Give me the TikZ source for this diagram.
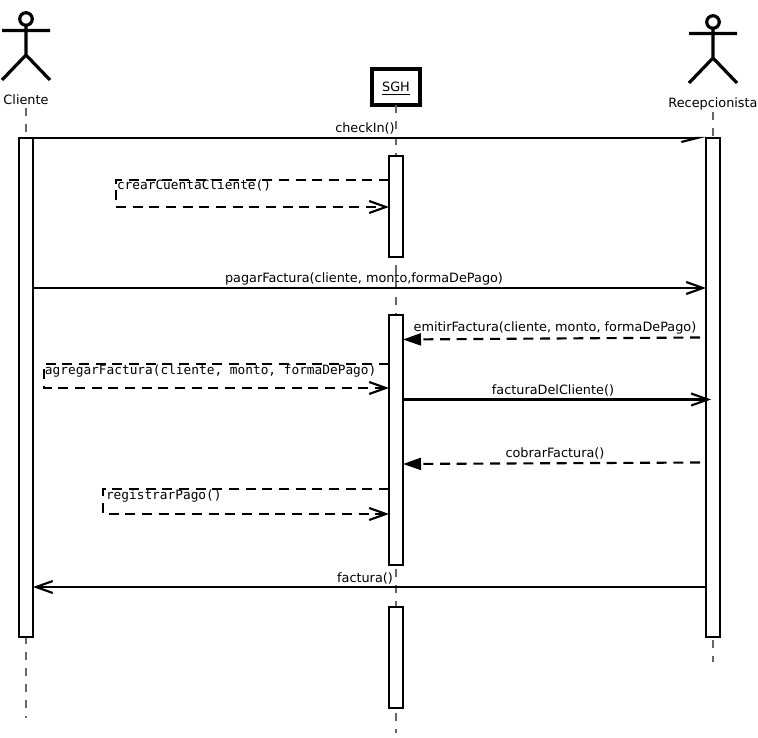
\documentclass[tikz,border=0pt]{standalone}
\usepackage{fontspec}
\setmainfont{DejaVu Sans}
\setmonofont{DejaVu Sans Mono}
\usetikzlibrary{arrows.meta,calc}
\tikzset{
  x=0.75pt,y=-0.75pt,
  every node/.style={inner sep=0pt,outer sep=0pt},
  lbl/.style={font=\fontsize{9.62}{11}\selectfont,anchor=base},
  noteL/.style={font=\ttfamily\fontsize{9.6}{11}\selectfont,anchor=base west},
  bar/.style={draw,fill=white,line width=1.6pt,minimum width=10.5pt},
  sysbox/.style={draw,fill=white,line width=2.4pt,minimum width=36pt,minimum height=27pt},
  life/.style={draw=black!60,line width=1.2pt,dash pattern=on 6pt off 6pt},
  stick/.style={line width=2.4pt},
  msg/.style={line width=1.6pt,-{Straight Barb[length=12.5pt,width=9pt]}},
  half/.style={line width=1.6pt,-{Straight Barb[length=12pt,width=6pt,right]}},
  ret/.style={line width=1.6pt,dash pattern=on 7.5pt off 5pt,-{Straight Barb[length=12.5pt,width=9pt]}},
  fmsg/.style={line width=1.6pt,dash pattern=on 7.5pt off 5pt,-{Triangle[length=13.5pt,width=9pt]}},
}
\begin{document}
\begin{tikzpicture}
\useasboundingbox (0,0) rectangle (758,738);
% lifelines
\node[sysbox] (sgh) at (396,87) {};
\node[lbl] (sghT) at (396,92) {\underline{SGH}};
\coordinate (cTop) at (26,108);
\coordinate (cEnd) at (26,718);
\coordinate (rTop) at (713,112);
\coordinate (rEnd) at (713,662);
\coordinate (sEnd) at (396,733);
\draw[life] (cTop) -- (cEnd);
\draw[life] (rTop) -- (rEnd);
\draw[life] (sgh.south) -- (sEnd);
% activation bars
\node[bar,minimum height=374.25pt] (barC) at (26,387.5) {};
\node[bar,minimum height=374.25pt] (barR) at (713,387.5) {};
\node[bar,minimum height=75.75pt] (barS1) at (396,206.5) {};
\node[bar,minimum height=187.5pt] (barS2) at (396,440) {};
\node[bar,minimum height=75.75pt] (barS3) at (396,657.5) {};
% actors
\coordinate (aHead) at (26,19);
\coordinate (aNeck) at (26,25.5);
\coordinate (aHip) at (26,55);
\coordinate (aArmL) at (2,30.5);
\coordinate (aArmR) at (50,30.5);
\coordinate (aLegL) at (2,80);
\coordinate (aLegR) at (50,80);
\draw[stick] (aHead) circle[radius=4.7pt];
\draw[stick] (aNeck) -- (aHip) (aArmL) -- (aArmR) (aLegL) -- (aHip) -- (aLegR);
\node[lbl] (cliente) at (26,105) {Cliente};
\coordinate (bHead) at (713,22);
\coordinate (bNeck) at (713,28.5);
\coordinate (bHip) at (713,58);
\coordinate (bArmL) at (689,33.5);
\coordinate (bArmR) at (737,33.5);
\coordinate (bLegL) at (689,83);
\coordinate (bLegR) at (737,83);
\draw[stick] (bHead) circle[radius=4.7pt];
\draw[stick] (bNeck) -- (bHip) (bArmL) -- (bArmR) (bLegL) -- (bHip) -- (bLegR);
\node[lbl] (recep) at (713,108) {Recepcionista};
% message heights
\coordinate (mCheck) at (0,138);
\coordinate (mCrearA) at (116,180);
\coordinate (mCrearB) at (116,207);
\coordinate (mPagar) at (0,288);
\coordinate (mEmitA) at (700,337.5);
\coordinate (mEmitB) at (0,339.5);
\coordinate (mAgrA) at (44,364);
\coordinate (mAgrB) at (44,388);
\coordinate (mFDC) at (711,399.5);
\coordinate (mCobA) at (700,462.5);
\coordinate (mCobB) at (0,464);
\coordinate (mRegA) at (103,489);
\coordinate (mRegB) at (103,514);
\coordinate (mFact) at (0,587);
% messages
\draw[half] (barC.west |- mCheck) -- (barR.west |- mCheck);
\node[lbl] (tCheck) at (365,133) {checkIn()};
\draw[ret] (barS1.west |- mCrearA) -- (mCrearA) -- (mCrearB) -- (barS1.west |- mCrearB);
\node[noteL] (tCrear) at (117,190) {crearCuentaCliente()};
\draw[msg] (barC.east |- mPagar) -- (barR.west |- mPagar);
\node[lbl] (tPagar) at (364,283) {pagarFactura(cliente, monto,formaDePago)};
\draw[fmsg] (mEmitA) -- (barS2.east |- mEmitB);
\node[lbl] (tEmit) at (555,332) {emitirFactura(cliente, monto, formaDePago)};
\draw[ret] (barS2.west |- mAgrA) -- (mAgrA) -- (mAgrB) -- (barS2.west |- mAgrB);
\node[noteL] (tAgr) at (45,374) {agregarFactura(cliente, monto, formaDePago)};
\draw[msg] (barS2.east |- mFDC) -- (mFDC);
\node[lbl] (tFDC) at (553,395) {facturaDelCliente()};
\draw[fmsg] (mCobA) -- (barS2.east |- mCobB);
\node[lbl] (tCob) at (555,457) {cobrarFactura()};
\draw[ret] (barS2.west |- mRegA) -- (mRegA) -- (mRegB) -- (barS2.west |- mRegB);
\node[noteL] (tReg) at (106,499) {registrarPago()};
\draw[msg] (barR.west |- mFact) -- (barC.east |- mFact);
\node[lbl] (tFact) at (365,582) {factura()};
\end{tikzpicture}
\end{document}
